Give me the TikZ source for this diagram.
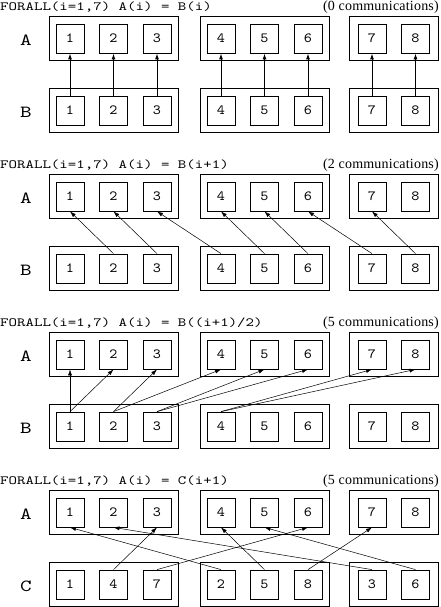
\documentclass[tikz,border=0pt]{standalone}
\usepackage{fontspec}
\newfontfamily\countfont{Liberation Serif}
\newfontfamily\typefont{lmmono10-regular.otf}
\usetikzlibrary{arrows.meta,positioning,fit}

\begin{document}
\begin{tikzpicture}[x=1pt, y=-1pt]
        \tikzstyle{cell} = [rectangle, draw, line width=0.8pt, minimum width=28pt, minimum height=29pt, inner sep=0pt, font=\typefont\fontsize{14}{14}\selectfont\addfontfeatures{FakeStretch=1.1}]
        \tikzstyle{group} = [rectangle, draw, line width=0.8pt, inner xsep=6.5pt, inner ysep=7pt]
        \tikzstyle{rowlabel} = [inner sep=0pt, font=\typefont\fontsize{17}{17}\selectfont\addfontfeatures{FakeStretch=1.3}]
        \tikzstyle{title} = [anchor=west, inner sep=0pt, font=\typefont\fontsize{12.5}{12.5}\selectfont\addfontfeatures{FakeStretch=1.29}]
        \tikzstyle{count} = [anchor=east, inner sep=0pt, font=\countfont\fontsize{14}{14}\selectfont\addfontfeatures{LetterSpace=1.5}]
        \tikzstyle{line} = [draw, line width=0.5pt, -{Latex[length=6pt,width=4pt]}]
        \def\colx{{70,113.5,157,221,264.5,308,372,415.5}}

        \useasboundingbox (0,0) rectangle (440,607);

        % one panel per FORALL statement
        \foreach \p/\ya/\lab/\nums/\head/\cnt in {
            1/38.5/B/{1,2,3,4,5,6,7,8}/{B(i)}/0,
            2/196.5/B/{1,2,3,4,5,6,7,8}/{B(i+1)}/2,
            3/354.5/B/{1,2,3,4,5,6,7,8}/{B((i+1)/2)}/5,
            4/512.5/C/{1,4,7,2,5,8,3,6}/{C(i+1)}/5} {
            \node [title] (title\p) at (0,\ya-31) {FORALL(i=1,7) A(i) = \head};
            \node [count] (count\p) at (439,\ya-31) {(\cnt{} communications)};
            \node [rowlabel] (labA\p) at (26,\ya+1.5) {A};
            \node [rowlabel] (labL\p) at (26,\ya+73.5) {\lab};
            \foreach \i in {1,...,8} {
                \pgfmathsetmacro\x{\colx[\i-1]}
                \node [cell] (A\p-\i) at (\x,\ya) {\i};
            }
            \foreach \c [count=\i] in \nums {
                \pgfmathsetmacro\x{\colx[\i-1]}
                \node [cell] (L\p-\i) at (\x,\ya+72) {\c};
            }
            \node [group, fit=(A\p-1)(A\p-3)] (gA\p-1) {};
            \node [group, fit=(A\p-4)(A\p-6)] (gA\p-2) {};
            \node [group, fit=(A\p-7)(A\p-8), inner xsep=8pt] (gA\p-3) {};
            \node [group, fit=(L\p-1)(L\p-3)] (gL\p-1) {};
            \node [group, fit=(L\p-4)(L\p-6)] (gL\p-2) {};
            \node [group, fit=(L\p-7)(L\p-8), inner xsep=8pt] (gL\p-3) {};
        }

        % A(i) = B(i)
        \foreach \i in {1,...,8}
            \path [line, line width=1pt] (L1-\i.north) -- (A1-\i.south);
        % A(i) = B(i+1)
        \foreach \i [evaluate=\i as \j using int(\i+1)] in {1,...,7}
            \path [line] (L2-\j.north) -- (A2-\i.south);
        % A(i) = B((i+1)/2)
        \foreach \i/\j in {1/1,2/1,3/2,4/2,5/3,6/3,7/4,8/4}
            \path [line] (L3-\j.north) -- (A3-\i.south);
        % A(i) = C(i+1)
        \foreach \i/\j in {1/4,2/7,3/2,4/5,5/8,6/3,7/6}
            \path [line] (L4-\j.north) -- (A4-\i.south);
    \end{tikzpicture}
\end{document}
